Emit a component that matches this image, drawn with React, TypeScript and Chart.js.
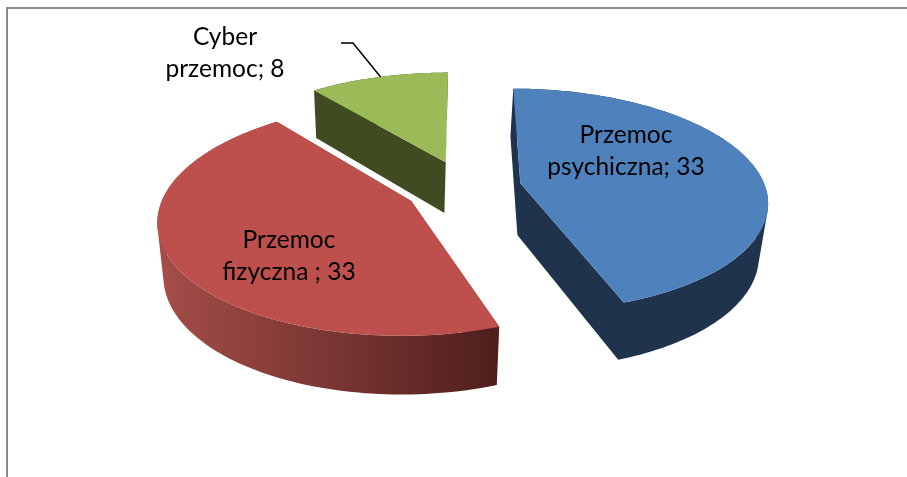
import React, { useEffect, useRef } from "react";
import { Chart, registerables } from "chart.js";

Chart.register(...registerables);

const categories = ["Przemoc psychiczna", "Przemoc fizyczna ", "Cyber przemoc"];
const values = [33, 33, 8];
const labelLines = [
  ["Przemoc", "psychiczna; 33"],
  ["Przemoc", "fizyczna ; 33"],
  ["Cyber", "przemoc; 8"],
];
const topColors = ["#4f81bd", "#bd4f4c", "#9bbb59"];
const wallColors = ["#1f334d", "#4f1f1d", "#404b22"];
const explodeOffsets = [56, 61, 62];
const wallGradientStart = "#a54d49";

const WIDTH = 907;
const HEIGHT = 477;
const TILT = 0.449;
const PERSPECTIVE = 0.15;
const BOTTOM_SHRINK = 0.975;
const BOTTOM_FIXED_X = 400;
const FONT = '24.5px Lato, Carlito, "Open Sans", sans-serif';
const LINE_GAP = 32;
const LABEL_ANCHORS = [
  { x: 626, y: 151 },
  { x: 289, y: 256 },
  { x: 225, y: 53 },
];

type P = { x: number; y: number };

const pie3d = {
  id: "pie3d",
  beforeDatasetDraw(chart: any) {
    const ctx: CanvasRenderingContext2D = chart.ctx;
    const arcs = chart.getDatasetMeta(0).data as any[];

    ctx.save();
    // chart frame
    ctx.fillStyle = "#8c8c8c";
    ctx.fillRect(6, 7, WIDTH - 6, 2);
    ctx.fillRect(6, 7, 2, HEIGHT - 7);

    const order = [2, 0, 1];
    const geometry: any[] = [];
    arcs.forEach((arc, i) => {
      const R = arc.outerRadius;
      const cx = arc.x;
      const cy = arc.y;
      const mid = (arc.startAngle + arc.endAngle) / 2;
      const off = arc.options.offset / R;
      const du = Math.cos(mid) * off;
      const dv = Math.sin(mid) * off;
      const project = (u: number, v: number): P & { s: number } => {
        const s = 1 / (1 - PERSPECTIVE * v);
        return { x: cx + R * u * s, y: cy + R * TILT * v * s, s };
      };
      const top = (a: number, r = 1) =>
        project(du + Math.cos(a) * r, dv + Math.sin(a) * r);
      const bottom = (p: P & { s: number }): P => ({
        x: BOTTOM_FIXED_X + (p.x - BOTTOM_FIXED_X) * BOTTOM_SHRINK,
        y: p.y + 19 + 33 * p.s,
      });
      geometry[i] = { arc, top, bottom, mid };
    });

    const area = (pts: P[]) =>
      pts.reduce((sum, p, i) => {
        const q = pts[(i + 1) % pts.length];
        return sum + p.x * q.y - q.x * p.y;
      }, 0);

    // every polygon of one group is wound the same way, so their union fills without seams
    const fillUnion = (polys: P[][], fill: any) => {
      ctx.beginPath();
      polys.forEach((poly) => {
        const pts = area(poly) < 0 ? [...poly].reverse() : poly;
        pts.forEach((p, i) => (i ? ctx.lineTo(p.x, p.y) : ctx.moveTo(p.x, p.y)));
        ctx.closePath();
      });
      ctx.fillStyle = fill;
      ctx.fill();
    };

    order.forEach((i) => {
      const { arc, top, bottom } = geometry[i];
      const n = 120;
      const rim: any[] = [];
      for (let k = 0; k <= n; k++) {
        rim.push(top(arc.startAngle + ((arc.endAngle - arc.startAngle) * k) / n));
      }
      const apex = top(0, 0);
      const wall = i === 1 ? (() => {
        const g = ctx.createLinearGradient(160, 0, 497, 0);
        g.addColorStop(0, wallGradientStart);
        g.addColorStop(1, wallColors[1]);
        return g;
      })() : wallColors[i];
      const polys: P[][] = [
        [apex, rim[0], bottom(rim[0]), bottom(apex)],
        [apex, rim[n], bottom(rim[n]), bottom(apex)],
      ];
      for (let k = 0; k < n; k++) {
        polys.push([rim[k], rim[k + 1], bottom(rim[k + 1]), bottom(rim[k])]);
      }
      fillUnion(polys, wall);
      fillUnion([[apex, ...rim]], arc.options.backgroundColor);
    });

    // labels
    ctx.fillStyle = "#000";
    ctx.font = FONT;
    ctx.textAlign = "center";
    ctx.textBaseline = "middle";
    labelLines.forEach((lines, i) => {
      const a = LABEL_ANCHORS[i];
      lines.forEach((t, j) => {
        ctx.fillText(t, a.x, a.y + (j - (lines.length - 1) / 2) * LINE_GAP);
      });
    });

    // leader line of the outside label
    const g = geometry[2];
    const start = g.top(g.mid);
    ctx.strokeStyle = "#000";
    ctx.lineWidth = 1.5;
    ctx.beginPath();
    ctx.moveTo(start.x + 2, start.y);
    ctx.lineTo(353, 43);
    ctx.lineTo(341, 43);
    ctx.stroke();
    ctx.restore();
    return false;
  },
};

export default function App() {
  const ref = useRef<HTMLCanvasElement>(null);
  useEffect(() => {
    const chart = new Chart(ref.current!, {
      type: "pie",
      data: {
        labels: categories,
        datasets: [
          {
            data: values,
            backgroundColor: topColors,
            borderWidth: 0,
            offset: explodeOffsets,
          },
        ],
      },
      options: {
        responsive: false,
        animation: false,
        radius: 245,
        rotation: 0,
        layout: { padding: { left: 24, bottom: 102 } },
        plugins: { legend: { display: false }, tooltip: { enabled: false } },
      },
      plugins: [pie3d],
    } as any);
    return () => chart.destroy();
  }, []);
  return (
    <div style={{ position: "fixed", left: 0, top: 0, width: WIDTH, height: HEIGHT, background: "#fff" }}>
      <canvas ref={ref} width={WIDTH} height={HEIGHT} style={{ display: "block" }} />
    </div>
  );
}
